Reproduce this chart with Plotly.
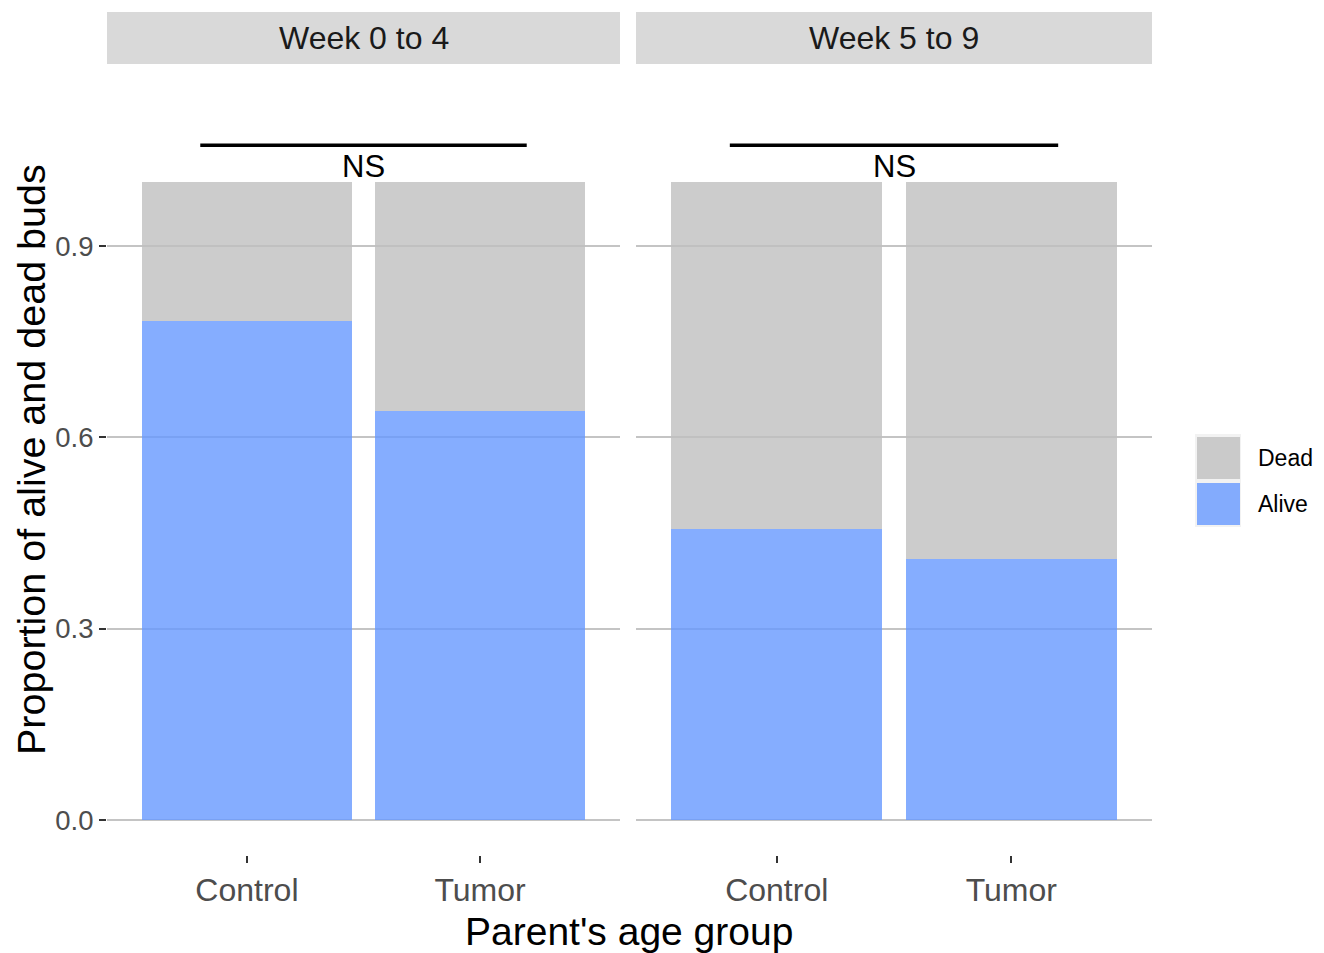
import plotly.graph_objects as go

# ---- data ----
facets = ["Week 0 to 4", "Week 5 to 9"]
groups = ["Control", "Tumor"]
alive_week0_4 = [0.782, 0.641]
dead_week0_4 = [0.218, 0.359]
alive_week5_9 = [0.456, 0.409]
dead_week5_9 = [0.544, 0.591]
sig_label = "NS"
sig_y = 1.058
sig_text_y = 1.025
y_ticks = [0.0, 0.3, 0.6, 0.9]
y_tick_text = ["0.0", "0.3", "0.6", "0.9"]
legend_labels = ["Dead", "Alive"]

# the page places the figure 8px from the top-left corner
OFF = 8
W, H = 1324 - OFF, 953 - OFF
FONT = "Liberation Sans, Arial, sans-serif"
ALIVE = "rgba(102,153,255,0.8)"
DEAD = "rgba(191,191,191,0.8)"

def px_x(p):
    return (p - OFF) / W

def px_y(p):
    return 1 - (p - OFF) / H

panel_x = [(107, 620), (636, 1152)]
panel_top, panel_bottom = 64, 855
strip_top = 12

fig = go.Figure()
series = [(alive_week0_4, dead_week0_4), (alive_week5_9, dead_week5_9)]
for i, (alive, dead) in enumerate(series):
    xa = "x" if i == 0 else "x2"
    ya = "y" if i == 0 else "y2"
    fig.add_trace(go.Bar(x=groups, y=alive, name="Alive", marker=dict(color=ALIVE, line=dict(width=0)),
                         width=0.9, xaxis=xa, yaxis=ya, showlegend=False, hoverinfo="x+y+name"))
    fig.add_trace(go.Bar(x=groups, y=dead, name="Dead", marker=dict(color=DEAD, line=dict(width=0)),
                         width=0.9, xaxis=xa, yaxis=ya, showlegend=False, hoverinfo="x+y+name"))

yrange = [-0.0549, 1.1853]
common_x = dict(type="category", range=[-0.6, 1.6], showgrid=True, gridcolor="white", gridwidth=1.5,
                ticks="outside", ticklen=7, tickwidth=1.5, tickcolor="#333333",
                tickfont=dict(family=FONT, size=32, color="#4D4D4D"), showline=False, zeroline=False)
common_y = dict(range=yrange, tickvals=y_ticks, ticktext=y_tick_text, showgrid=True, gridcolor="#C4C4C4",
                gridwidth=1.5, zeroline=False, showline=False,
                domain=[px_y(panel_bottom), px_y(panel_top)])

fig.update_layout(
    width=W, height=H, margin=dict(l=0, r=0, t=0, b=0),
    paper_bgcolor="white", plot_bgcolor="rgba(0,0,0,0)",
    barmode="stack", bargap=0.1,
    xaxis=dict(domain=[px_x(panel_x[0][0]), px_x(panel_x[0][1])], anchor="y", **common_x),
    xaxis2=dict(domain=[px_x(panel_x[1][0]), px_x(panel_x[1][1])], anchor="y2", **common_x),
    yaxis=dict(anchor="x", ticks="outside", ticklen=7, tickwidth=1.5, tickcolor="#333333",
               tickfont=dict(family=FONT, size=27.5, color="#4D4D4D"), **common_y),
    yaxis2=dict(anchor="x2", showticklabels=False, ticks="", matches="y", **common_y),
    showlegend=False,
)

shapes = []
annotations = []
for i, name in enumerate(facets):
    x0, x1 = panel_x[i]
    shapes.append(dict(type="rect", xref="paper", yref="paper", x0=px_x(x0), x1=px_x(x1),
                       y0=px_y(panel_top), y1=px_y(strip_top), fillcolor="#D9D9D9", line=dict(width=0)))
    annotations.append(dict(text=name, xref="paper", yref="paper", x=px_x((x0 + x1) / 2),
                            y=px_y((panel_top + strip_top) / 2), showarrow=False, xanchor="center",
                            yanchor="middle", font=dict(family=FONT, size=32, color="#1A1A1A")))
    xr = "x" if i == 0 else "x2"
    yr = "y" if i == 0 else "y2"
    shapes.append(dict(type="line", xref=xr, yref=yr, x0=-0.2, x1=1.2, y0=sig_y, y1=sig_y,
                       line=dict(color="black", width=3.5)))
    annotations.append(dict(text=sig_label, xref=xr, yref=yr, x=0.5, y=sig_text_y, showarrow=False,
                            xanchor="center", yanchor="middle", font=dict(family=FONT, size=31, color="black")))

# axis titles
annotations.append(dict(text="Parent's age group", xref="paper", yref="paper", x=px_x(629), y=px_y(931),
                        showarrow=False, xanchor="center", yanchor="middle",
                        font=dict(family=FONT, size=39, color="black")))
annotations.append(dict(text="Proportion of alive and dead buds", xref="paper", yref="paper", x=px_x(31),
                        y=px_y(460), showarrow=False, xanchor="center", yanchor="middle", textangle=-90,
                        font=dict(family=FONT, size=39.5, color="black")))

# legend (drawn manually to match ggplot key size)
shapes.append(dict(type="rect", xref="paper", yref="paper", x0=px_x(1195), x1=px_x(1241),
                   y0=px_y(527), y1=px_y(434), fillcolor="#F2F2F2", line=dict(width=0)))
legend_colors = [DEAD, ALIVE]
key_rows = [(437, 479), (483, 525)]
for lab, col, (ya, yb) in zip(legend_labels, legend_colors, key_rows):
    shapes.append(dict(type="rect", xref="paper", yref="paper", x0=px_x(1197), x1=px_x(1240),
                       y0=px_y(yb), y1=px_y(ya), fillcolor=col, line=dict(width=0)))
    annotations.append(dict(text=lab, xref="paper", yref="paper", x=px_x(1256), y=px_y((ya + yb) / 2),
                            showarrow=False, xanchor="left", yanchor="middle",
                            font=dict(family=FONT, size=23, color="black")))

fig.update_layout(shapes=shapes, annotations=annotations)
fig.write_html("out.html")
